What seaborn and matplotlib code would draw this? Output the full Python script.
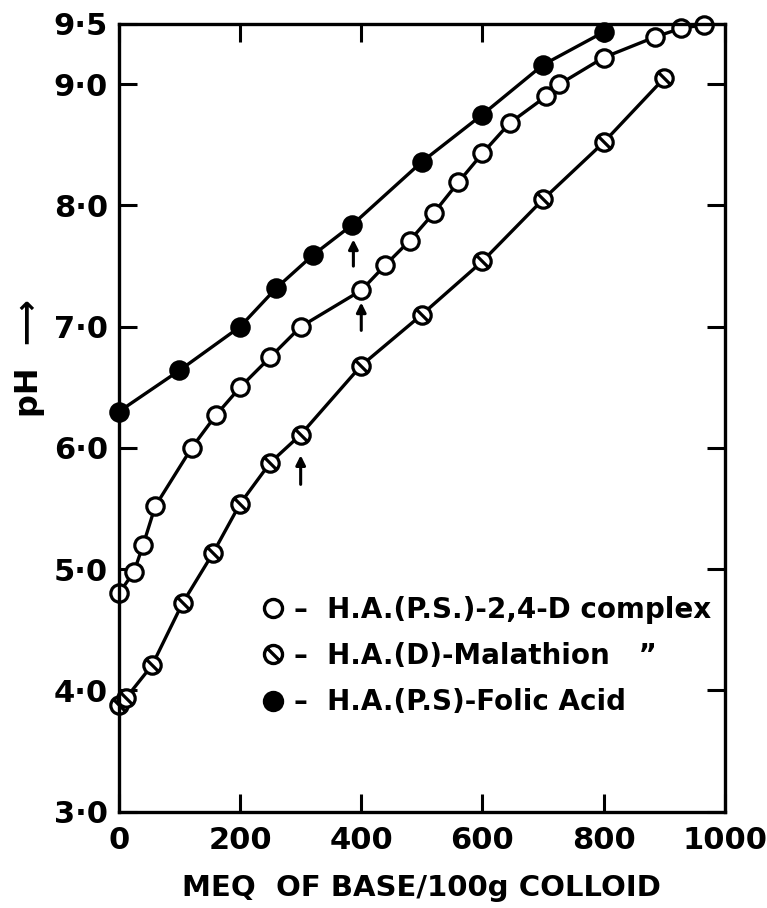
import numpy as np
import pandas as pd
import matplotlib
matplotlib.use("Agg")
import matplotlib.pyplot as plt
from matplotlib.path import Path
from matplotlib.lines import Line2D
import seaborn as sns

# values
folic_x = [0, 100, 200, 260, 320, 385, 500, 600, 700, 800]
folic_y = [6.30, 6.64, 7.00, 7.32, 7.59, 7.84, 8.36, 8.75, 9.16, 9.43]

d24_x = [0, 25, 40, 60, 120, 160, 200, 250, 300, 400, 440, 480, 520, 560,
         600, 645, 705, 727, 800, 885, 927, 965]
d24_y = [4.80, 4.98, 5.20, 5.52, 6.00, 6.27, 6.50, 6.75, 7.00, 7.30, 7.51,
         7.71, 7.94, 8.19, 8.43, 8.68, 8.90, 9.00, 9.22, 9.39, 9.46, 9.49]

mal_x = [0, 12, 55, 105, 155, 200, 250, 300, 400, 500, 600, 700, 800, 900]
mal_y = [3.88, 3.94, 4.21, 4.72, 5.13, 5.54, 5.88, 6.11, 6.68, 7.10, 7.54,
         8.05, 8.52, 9.05]

# arrows marking the break points (x, tail, head)
arrow_x = [387, 400, 300]
arrow_tail = [7.50, 6.97, 5.70]
arrow_head = [7.72, 7.20, 5.94]

labels = ["–  H.A.(P.S.)-2,4-D complex",
          "–  H.A.(D)-Malathion   \u201d",
          "–  H.A.(P.S)-Folic Acid"]

xticks = [0, 200, 400, 600, 800, 1000]
yticks = [3.0, 4.0, 5.0, 6.0, 7.0, 8.0, 9.0, 9.5]
ytick_labels = ["3·0", "4·0", "5·0", "6·0", "7·0", "8·0", "9·0", "9·5"]

sns.set_style("ticks", {"axes.edgecolor": "black", "text.color": "black",
                        "xtick.color": "black", "ytick.color": "black",
                        "axes.labelcolor": "black"})
plt.rcParams["font.family"] = ["DejaVu Sans"]
plt.rcParams["font.weight"] = "bold"

# open circle with a diagonal stroke
circ = Path.unit_circle()
stroke = Path([(-0.72, 0.72), (0.72, -0.72)], [Path.MOVETO, Path.LINETO])
hatched = Path.make_compound_path(circ, stroke)

fig = plt.figure(figsize=(7.67, 9.08), dpi=100)
ax = fig.add_axes([0.155, 0.106, 0.79, 0.868])

lw = 2.4
mk = dict(markersize=12.5, markeredgewidth=2.3, markeredgecolor="black", clip_on=False)

sns.lineplot(x=d24_x, y=d24_y, ax=ax, color="black", lw=lw, marker="o",
             markerfacecolor="white", sort=False, **mk)
sns.lineplot(x=mal_x, y=mal_y, ax=ax, color="black", lw=lw, marker=hatched,
             markerfacecolor="white", sort=False, **mk)
sns.lineplot(x=folic_x, y=folic_y, ax=ax, color="black", lw=lw, marker="o",
             markerfacecolor="black", sort=False, **mk)

for x, t, h in zip(arrow_x, arrow_tail, arrow_head):
    ax.annotate("", xy=(x, h), xytext=(x, t),
                arrowprops=dict(arrowstyle="-|>", color="black", lw=2.2,
                                mutation_scale=14, shrinkA=0, shrinkB=0))

ax.set_xlim(0, 1000)
ax.set_ylim(3.0, 9.5)
ax.set_xticks(xticks)
ax.set_yticks(yticks)
ax.set_yticklabels(ytick_labels)
ax.tick_params(direction="in", length=13, width=2.2, top=True, right=True,
               labelsize=22)
ax.tick_params(axis="x", pad=10)
ax.tick_params(axis="y", pad=8)
for s in ax.spines.values():
    s.set_linewidth(2.4)

ax.set_xlabel("MEQ  OF BASE/100g COLLOID", fontsize=21, fontweight="bold", labelpad=14)
ax.set_ylabel("pH  \u27f6", fontsize=23, fontweight="bold")
ax.yaxis.set_label_coords(-0.122, 0.575)

handles = [
    Line2D([], [], ls="none", marker="o", markerfacecolor="white", markeredgecolor="black",
           markersize=13, markeredgewidth=2.4),
    Line2D([], [], ls="none", marker=hatched, markerfacecolor="white", markeredgecolor="black",
           markersize=13, markeredgewidth=2.4),
    Line2D([], [], ls="none", marker="o", markerfacecolor="black", markeredgecolor="black",
           markersize=13, markeredgewidth=2.4),
]
ax.legend(handles, labels, loc="upper left", bbox_to_anchor=(0.236, 0.274),
          frameon=False, prop=dict(size=20, weight="bold"), handlelength=0.8,
          handletextpad=0.35, labelspacing=0.66, borderpad=0, borderaxespad=0)

fig.savefig("out.png", dpi=100)
